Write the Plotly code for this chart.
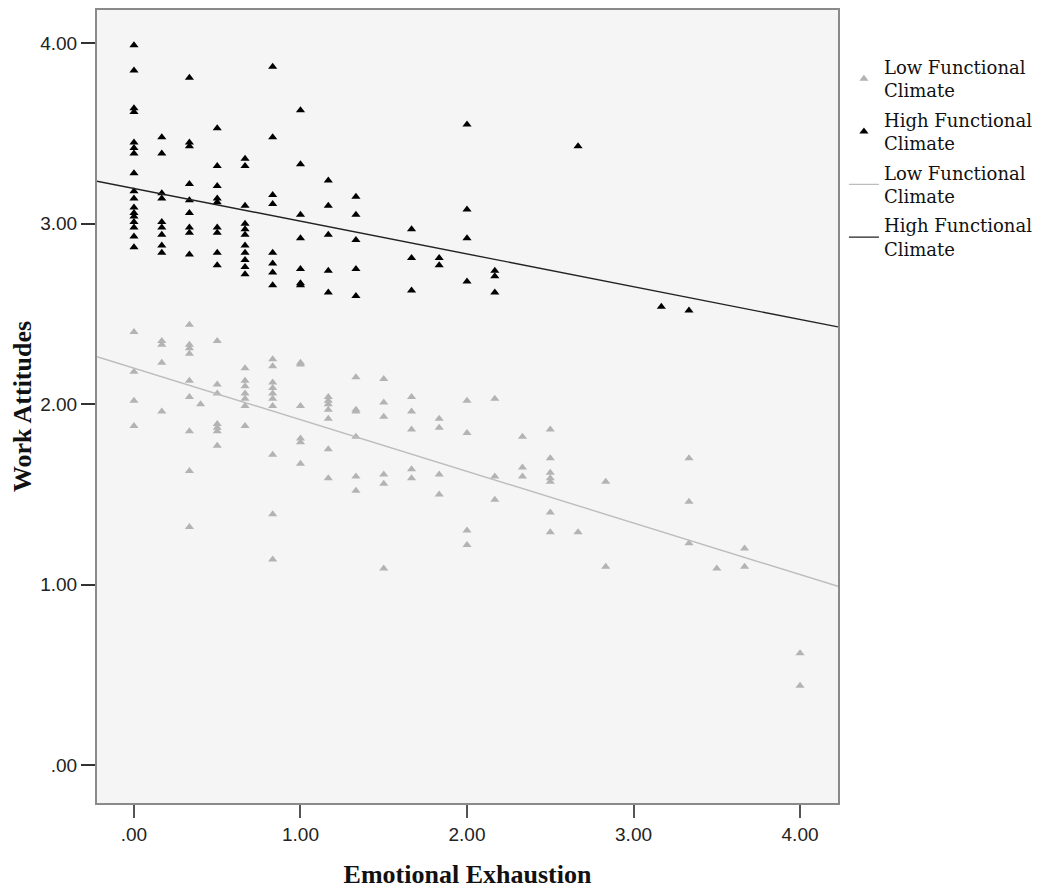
import plotly.graph_objects as go

# ---- data ----
x_levels_high = [0.0, 0.167, 0.333, 0.5, 0.667, 0.833, 1.0, 1.167, 1.333,
                 1.667, 1.833, 2.0, 2.167, 2.667, 3.167, 3.333]
y_high = [
    [3.99, 3.85, 3.64, 3.62, 3.45, 3.42, 3.39, 3.28, 3.18, 3.14, 3.09, 3.06, 3.04, 3.01, 2.98, 2.93, 2.87],
    [3.48, 3.39, 3.17, 3.14, 3.01, 2.98, 2.94, 2.88, 2.84],
    [3.81, 3.45, 3.43, 3.22, 3.13, 3.06, 2.98, 2.95, 2.83],
    [3.53, 3.32, 3.21, 3.14, 3.12, 2.98, 2.95, 2.84, 2.77],
    [3.36, 3.32, 3.10, 3.00, 2.97, 2.94, 2.88, 2.84, 2.80, 2.76, 2.72],
    [3.87, 3.48, 3.16, 3.11, 2.84, 2.78, 2.73, 2.66],
    [3.63, 3.33, 3.05, 2.92, 2.75, 2.67, 2.66],
    [3.24, 3.10, 2.94, 2.74, 2.62],
    [3.15, 3.05, 2.91, 2.75, 2.60],
    [2.97, 2.81, 2.63],
    [2.81, 2.77],
    [3.55, 3.08, 2.92, 2.68],
    [2.74, 2.71, 2.62],
    [3.43],
    [2.54],
    [2.52],
]

x_levels_low = [0.0, 0.167, 0.333, 0.4, 0.5, 0.667, 0.833, 1.0, 1.167, 1.333, 1.5,
                1.667, 1.833, 2.0, 2.167, 2.333, 2.5, 2.667, 2.833, 3.333, 3.5, 3.667, 4.0]
y_low = [
    [2.40, 2.18, 2.02, 1.88],
    [2.35, 2.33, 2.23, 1.96],
    [2.44, 2.33, 2.31, 2.28, 2.13, 2.04, 1.85, 1.63, 1.32],
    [2.00],
    [2.35, 2.11, 2.06, 1.89, 1.87, 1.85, 1.77],
    [2.20, 2.13, 2.10, 2.06, 2.03, 1.99, 1.88],
    [2.25, 2.21, 2.12, 2.09, 2.06, 2.03, 1.99, 1.72, 1.39, 1.14],
    [2.23, 2.22, 1.99, 1.81, 1.79, 1.67],
    [2.04, 2.02, 2.00, 1.97, 1.92, 1.75, 1.59],
    [2.15, 1.97, 1.96, 1.82, 1.60, 1.52],
    [2.14, 2.01, 1.93, 1.61, 1.56, 1.09],
    [2.04, 1.96, 1.86, 1.64, 1.59],
    [1.92, 1.87, 1.61, 1.50],
    [2.02, 1.84, 1.30, 1.22],
    [2.03, 1.60, 1.47],
    [1.82, 1.65, 1.60],
    [1.86, 1.70, 1.62, 1.59, 1.57, 1.40, 1.29],
    [1.29],
    [1.57, 1.10],
    [1.70, 1.46, 1.23],
    [1.09],
    [1.20, 1.10],
    [0.62, 0.44],
]

# fit lines (intercept, slope)
low_fit = (2.200, -0.286)
high_fit = (3.196, -0.1815)

x_range = [-0.222, 4.228]
y_range = [-0.21, 4.185]
tick_vals = [0, 1, 2, 3, 4]
tick_text = [".00", "1.00", "2.00", "3.00", "4.00"]

series_names = ["Low Functional<br>Climate", "High Functional<br>Climate"]


def flatten(levels, groups):
    xs, ys = [], []
    for xv, g in zip(levels, groups):
        for yv in g:
            xs.append(xv)
            ys.append(yv)
    return xs, ys


lx, ly = flatten(x_levels_low, y_low)
hx, hy = flatten(x_levels_high, y_high)

LOW_C = "#b3b3b3"
HIGH_C = "#000000"

fig = go.Figure()
fig.add_trace(go.Scatter(x=lx, y=ly, mode="markers", name=series_names[0], legendgroup="a",
                         marker=dict(symbol="triangle-up", size=8, color=LOW_C)))
fig.add_trace(go.Scatter(x=hx, y=hy, mode="markers", name=series_names[1], legendgroup="b",
                         marker=dict(symbol="triangle-up", size=8, color=HIGH_C)))

for (b0, b1), col, nm, grp in [(low_fit, "#bdbdbd", series_names[0], "c"),
                               (high_fit, "#222222", series_names[1], "d")]:
    fig.add_trace(go.Scatter(x=x_range, y=[b0 + b1 * v for v in x_range],
                             mode="lines", name=nm, legendgroup=grp,
                             line=dict(color=col, width=1.4)))

fig.update_layout(
    width=1042, height=881,
    margin=dict(l=89, r=212, t=0, b=86),
    paper_bgcolor="white",
    plot_bgcolor="#f5f5f5",
    showlegend=True,
    legend=dict(x=1.008, xanchor="left", y=0.951, yanchor="top",
                font=dict(family="DejaVu Serif", size=18, color="#111111"),
                bgcolor="rgba(0,0,0,0)", tracegroupgap=3, itemwidth=30,
                traceorder="grouped"),
    font=dict(family="Liberation Sans", color="#222222"),
)

fig.update_xaxes(range=x_range, tickvals=tick_vals, ticktext=tick_text,
                 showgrid=False, zeroline=False,
                 showline=True, mirror=True, linecolor="#8a8a8a", linewidth=2,
                 ticks="outside", ticklen=13, tickcolor="#555555", tickwidth=2,
                 tickfont=dict(family="Liberation Sans", size=19, color="#222222"),
                 title=dict(text="<b>Emotional Exhaustion</b>", standoff=25,
                            font=dict(family="Liberation Serif", size=26, color="#111111")))
fig.update_yaxes(range=y_range, tickvals=tick_vals, ticktext=tick_text,
                 showgrid=False, zeroline=False,
                 showline=True, mirror=True, linecolor="#8a8a8a", linewidth=2,
                 ticks="outside", ticklen=14, tickcolor="#333333", tickwidth=2,
                 tickfont=dict(family="Liberation Sans", size=19, color="#222222"),
                 title=dict(text="<b>Work Attitudes</b>", standoff=13,
                            font=dict(family="Liberation Serif", size=26, color="#111111")))

fig.write_html("out.html")
